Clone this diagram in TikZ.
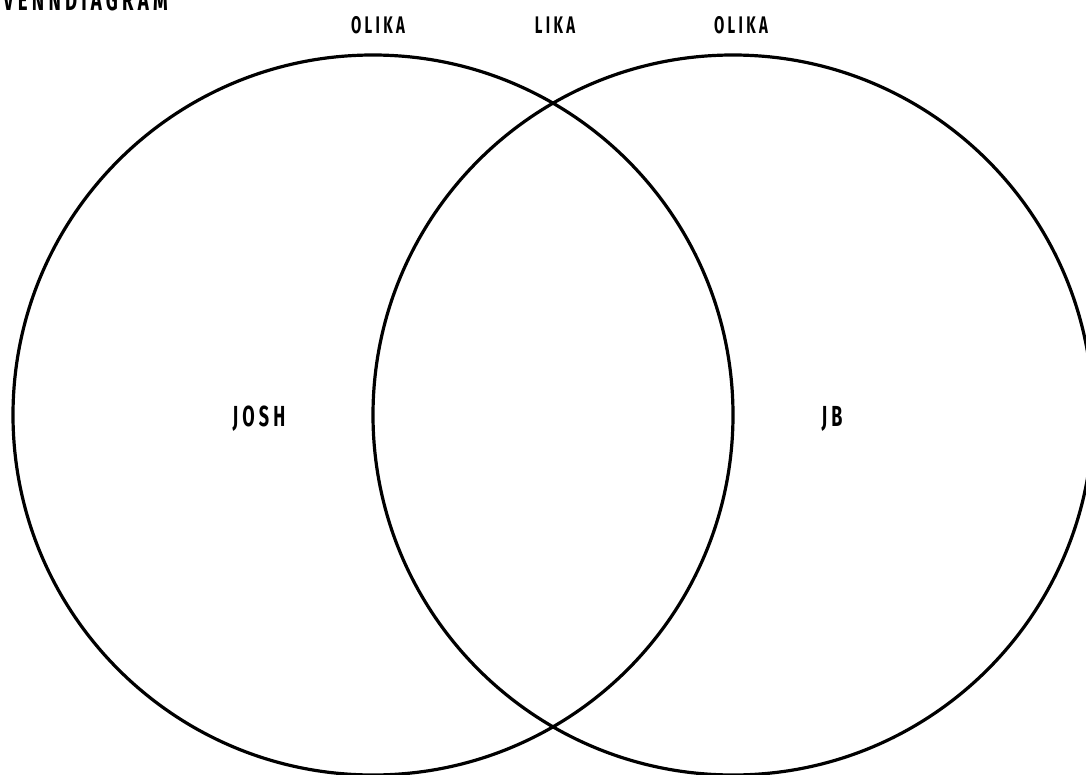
\documentclass[tikz,border=0pt]{standalone}
\usepackage{fontspec}
\newfontfamily\cond[FakeStretch=0.62,LetterSpace=14]{Fira Sans}
\begin{document}
\begin{tikzpicture}[x=1pt,y=-1pt,
  ring/.style={circle,draw=black,line width=3.2pt,minimum size=720pt,inner sep=0pt},
  lbl/.style={font=\cond\bfseries\fontsize{24}{24}\selectfont,inner sep=0pt},
  lblbig/.style={font=\cond\bfseries\fontsize{29}{29}\selectfont,inner sep=0pt},
  big/.style={font=\cond\bfseries\fontsize{30}{30}\selectfont,inner sep=0pt}]
\useasboundingbox (0,0) rectangle (1086,775);
\fill[white] (0,0) rectangle (1086,775);
\node[ring] (left) at (373,415) {};
\node[ring] (right) at (733,415) {};
\node[big,anchor=base west] (title) at (3,11) {VENNDIAGRAM};
\node[lbl,anchor=base] (olika1) at (378,34) {OLIKA};
\node[lbl,anchor=base] (lika) at (555,34) {LIKA};
\node[lbl,anchor=base] (olika2) at (741,34) {OLIKA};
\node[lblbig,anchor=base] (josh) at (259,426) {JOSH};
\node[lblbig,anchor=base] (jb) at (832,426) {JB};
\end{tikzpicture}
\end{document}
